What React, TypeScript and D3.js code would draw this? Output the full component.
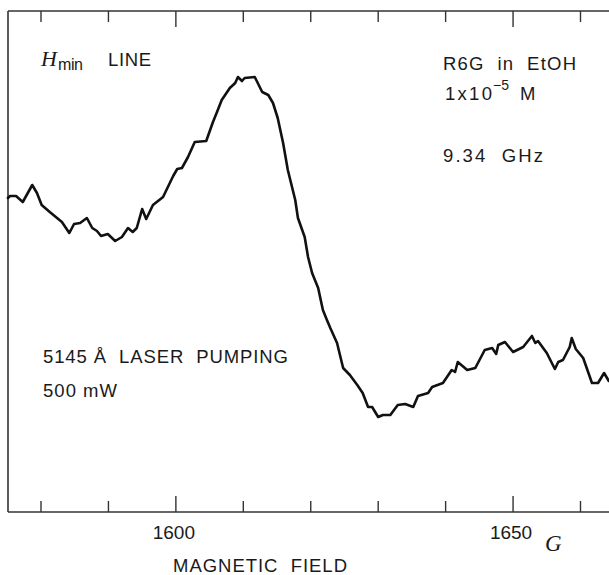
import React from "react";
import * as d3 from "d3";

// Magnetic field (G) and EPR signal (arbitrary units)
const fieldG: number[] = [
  1575.1, 1575.4, 1576.3, 1577.3, 1578.7, 1579.4, 1580.1, 1581.3, 1583.1, 1584.2,
  1584.9, 1585.8, 1586.8, 1587.6, 1588.3, 1588.9, 1589.9, 1591.0, 1592.0, 1592.9,
  1593.6, 1594.2, 1595.0, 1595.6, 1596.6, 1598.1, 1599.6, 1600.2, 1600.9, 1601.8,
  1602.8, 1604.5, 1605.5, 1606.1, 1606.8, 1607.3, 1608.0, 1608.8, 1609.2, 1609.8,
  1610.2, 1611.7, 1612.8, 1613.7, 1614.4, 1615.1, 1615.9, 1616.6, 1617.7, 1618.1,
  1619.1, 1619.6, 1620.2, 1621.1, 1621.8, 1622.4, 1622.9, 1623.9, 1624.8, 1625.8,
  1626.9, 1627.7, 1628.5, 1629.1, 1630.0, 1630.7, 1631.8, 1632.9, 1634.0, 1635.2,
  1635.9, 1637.4, 1638.0, 1639.6, 1640.9, 1641.4, 1641.8, 1643.2, 1644.4, 1645.8,
  1646.9, 1647.5, 1647.8, 1648.8, 1650.0, 1651.5, 1652.8, 1653.3, 1653.7, 1655.0,
  1656.2, 1656.7, 1657.4, 1658.4, 1658.7, 1659.3, 1660.4, 1661.7, 1662.6, 1663.5,
  1664.2,
];
const signal: number[] = [
  31.4, 31.6, 31.6, 31.0, 32.7, 31.9, 30.7, 30.0, 29.0, 27.9,
  28.8, 28.9, 29.4, 28.4, 28.1, 27.6, 27.8, 27.1, 27.5, 28.4,
  28.0, 28.4, 30.3, 29.3, 30.7, 31.5, 33.6, 34.3, 34.4, 35.5,
  37.0, 37.1, 39.0, 40.0, 41.2, 41.7, 42.4, 42.9, 43.5, 43.1,
  43.4, 43.5, 42.0, 41.7, 40.9, 39.4, 36.9, 34.2, 31.2, 29.4,
  27.5, 25.5, 23.9, 22.4, 20.2, 19.2, 18.4, 16.9, 14.4, 13.7,
  12.7, 11.9, 10.5, 10.5, 9.5, 9.7, 9.7, 10.7, 10.8, 10.5,
  11.6, 11.9, 12.5, 12.9, 14.2, 14.0, 15.0, 14.2, 14.4, 16.2,
  16.4, 15.8, 16.7, 17.0, 16.0, 16.5, 17.6, 16.9, 17.1, 15.9,
  14.3, 15.0, 15.2, 16.5, 17.4, 16.3, 15.4, 12.9, 12.9, 13.9,
  13.1,
];

const tickValues: number[] = [1580, 1590, 1600, 1610, 1620, 1630, 1640, 1650, 1660];
const tickLabels: number[] = [1600, 1650];

const W = 609;
const H = 575;
const FONT = "'Liberation Sans', Arial, Helvetica, sans-serif";

export default function App() {
  const x = d3.scaleLinear().domain([1580, 1660]).range([41, 580.5]);
  const y = d3.scaleLinear().domain([0, 50.1]).range([512, 11]);
  const left = 8;
  const top = y(50.1);
  const bottom = y(0);

  const pts: [number, number][] = fieldG.map((g, i) => [g, signal[i]]);
  const line = d3
    .line<[number, number]>()
    .x((d) => x(d[0]))
    .y((d) => y(d[1]))
    .curve(d3.curveLinear);

  const txt = { fontFamily: FONT, fontSize: 18.5, fill: "#1a1a1a" } as const;

  return (
    <svg
      width={W}
      height={H}
      viewBox={`0 0 ${W} ${H}`}
      style={{ position: "absolute", left: 0, top: 0, background: "#fff" }}
    >
      <rect x={0} y={0} width={W} height={H} fill="#fff" />
      {/* frame */}
      <g stroke="#333" strokeWidth={1.6} fill="none">
        <line x1={left} y1={top} x2={W} y2={top} />
        <line x1={left} y1={bottom} x2={W} y2={bottom} />
        <line x1={left} y1={top} x2={left} y2={bottom} />
      </g>
      {/* ticks */}
      <g stroke="#333" strokeWidth={1.4}>
        {tickValues.map((t) => {
          const major = tickLabels.includes(t);
          const len = major ? 16 : 11;
          return (
            <g key={t}>
              <line x1={x(t)} x2={x(t)} y1={top} y2={top + len} />
              <line x1={x(t)} x2={x(t)} y1={bottom} y2={bottom - len} />
            </g>
          );
        })}
      </g>
      {/* tick labels */}
      {tickLabels.map((t) => (
        <text key={t} x={x(t) - 2} y={539} textAnchor="middle" {...txt} fontSize={19}>
          {t}
        </text>
      ))}
      <text x={545} y={551} fontFamily="'Liberation Serif', serif" fontStyle="italic" fontSize={23} fill="#1a1a1a">
        G
      </text>
      <text x={173} y={572} {...txt} textLength={174} lengthAdjust="spacing" style={{ whiteSpace: "pre" }}>
        {"MAGNETIC  FIELD"}
      </text>

      {/* annotations */}
      <text x={41} y={66} fontFamily="'Liberation Serif', serif" fontStyle="italic" fontSize={22} fill="#1a1a1a">
        H
      </text>
      <text x={58} y={70} {...txt} fontSize={16} textLength={25} lengthAdjust="spacing">
        min
      </text>
      <text x={108} y={66} {...txt} textLength={43} lengthAdjust="spacing">
        LINE
      </text>

      <text x={443} y={70} {...txt} textLength={133} lengthAdjust="spacing" style={{ whiteSpace: "pre" }}>
        {"R6G  in  EtOH"}
      </text>
      <text x={445} y={100} {...txt} textLength={47} lengthAdjust="spacing">
        1x10
      </text>
      <text x={493} y={90} {...txt} fontSize={14}>
        −5
      </text>
      <text x={520} y={100} {...txt}>
        M
      </text>
      <text x={443} y={162} {...txt} textLength={100} lengthAdjust="spacing" style={{ whiteSpace: "pre" }}>
        {"9.34  GHz"}
      </text>

      <text x={43} y={363} {...txt} textLength={245} lengthAdjust="spacing" style={{ whiteSpace: "pre" }}>
        {"5145 Å  LASER  PUMPING"}
      </text>
      <text x={43} y={397} {...txt} textLength={74} lengthAdjust="spacing" style={{ whiteSpace: "pre" }}>
        {"500 mW"}
      </text>

      {/* trace */}
      <path d={line(pts) ?? ""} fill="none" stroke="#111" strokeWidth={2.6} strokeLinejoin="round" strokeLinecap="round" />
    </svg>
  );
}
